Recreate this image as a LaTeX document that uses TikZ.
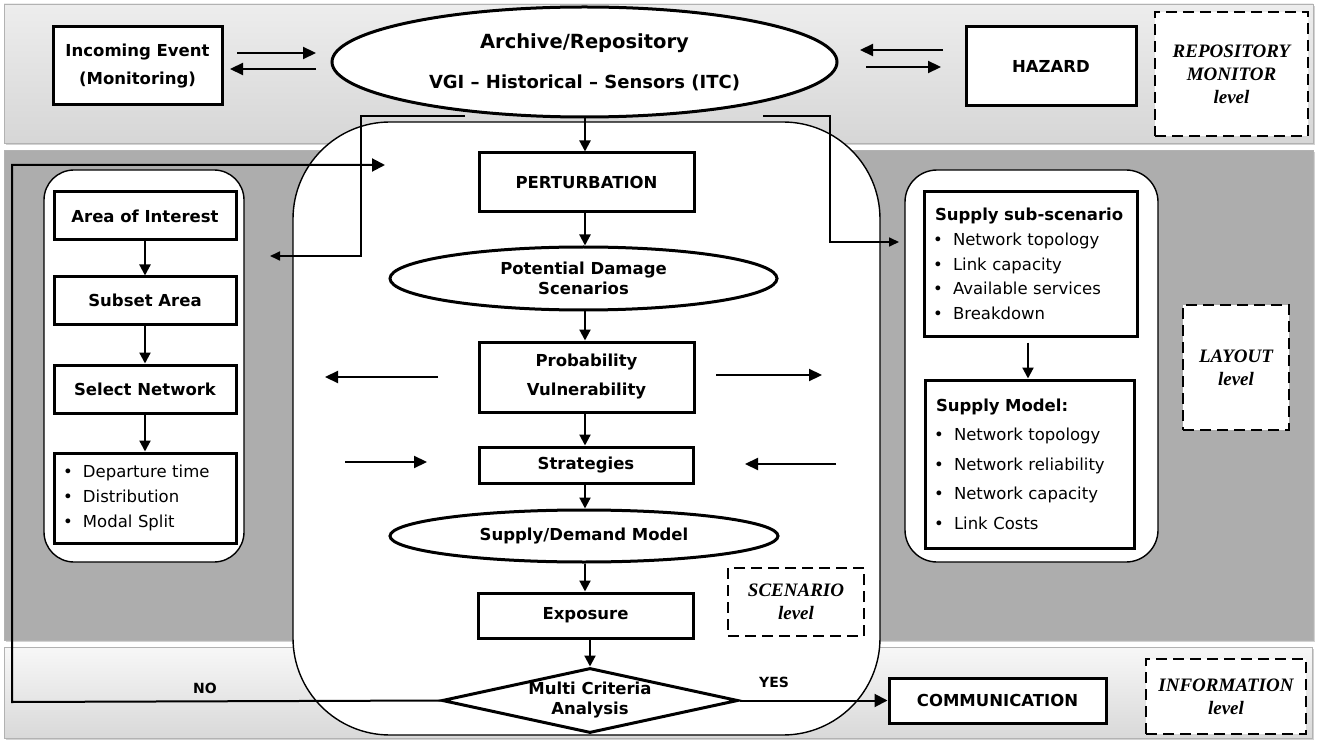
\documentclass[tikz,border=0pt]{standalone}
\usepackage{fontspec}
\setmainfont{DejaVu Sans}
\newfontfamily\lvlfont{Liberation Serif}
\usetikzlibrary{shapes.geometric,arrows.meta,shadows,calc}
\newcommand\itm[1]{\makebox[20pt][l]{\textbullet}#1}
\begin{document}
\begin{tikzpicture}[x=1pt,y=-1pt,
  box/.style={draw,line width=3pt,fill=white,inner sep=0pt,align=center,font=\fontsize{16.5}{28}\selectfont\bfseries},
  ell/.style={ellipse,draw,line width=3pt,fill=white,inner sep=0pt,align=center,font=\fontsize{16.5}{20}\selectfont\bfseries},
  lvl/.style={draw,dash pattern=on 11pt off 6pt,line width=2.5pt,fill=white,inner sep=0pt,align=center,font=\fontsize{19}{23}\selectfont\lvlfont\bfseries\itshape},
  blist/.style={draw,line width=3pt,fill=white,inner sep=0pt,align=left,font=\fontsize{16.5}{24.7}\selectfont},
  panel/.style={draw,line width=1.4pt,fill=white},
  flow/.style={line width=2.2pt,-{Triangle[length=11pt,width=11pt]}},
  side/.style={line width=2.2pt,-{Triangle[length=13pt,width=12pt]}},
  fb/.style={line width=1.7pt,-{Triangle[length=10pt,width=9pt]}},
  loop/.style={line width=2pt,-{Triangle[length=13pt,width=13pt]}},
  lab/.style={font=\fontsize{14}{17}\selectfont\bfseries},
  band/.style={draw=gray!60,line width=0.8pt,drop shadow={shadow xshift=2pt,shadow yshift=-2pt,opacity=0.35}},
]
\useasboundingbox (0,0) rectangle (1317,743);
\fill[white] (0,0) rectangle (1317,743);

% bands
\path[band,top color=gray!14,middle color=gray!4,bottom color=gray!32] (4,4) rectangle (1313,143);
\path[band,fill=black!32] (4,150) rectangle (1313,640);
\path[band,top color=gray!6,bottom color=gray!30] (4,647) rectangle (1312,738);

% panels
\path[panel,rounded corners=30pt] (44,170) rectangle (244,562);
\path[panel,rounded corners=32pt] (905,170) rectangle (1158,562);
\path[panel,rounded corners=97pt] (293,122) rectangle (880,735);

% top level
\node[box,minimum width=169pt,minimum height=78pt] (inc) at (137.5,66) {Incoming Event\\(Monitoring)};
\node[ell,minimum width=505pt,minimum height=110pt,font=\fontsize{18}{40}\selectfont\bfseries] (arch) at (584.5,62) {{\fontsize{19.5}{40}\selectfont Archive/Repository}\\VGI -- Historical -- Sensors (ITC)};
\node[box,minimum width=170pt,minimum height=79pt] (haz) at (1051,66.5) {HAZARD};
\node[lvl,minimum width=153pt,minimum height=124pt] (repo) at (1231.5,74) {REPOSITORY\\MONITOR\\level};

\coordinate (ia1) at (237,53); \coordinate (ia2) at (316,53);
\coordinate (ai1) at (316,69); \coordinate (ai2) at (230,69);
\coordinate (ha1) at (943,50); \coordinate (ha2) at (860,50);
\coordinate (ah1) at (866,67); \coordinate (ah2) at (941,67);
\draw[side] (ia1) -- (ia2);
\draw[side] (ai1) -- (ai2);
\draw[side] (ha1) -- (ha2);
\draw[side] (ah1) -- (ah2);

% left panel
\node[box,minimum width=182pt,minimum height=48pt] (aoi) at (145,216) {Area of Interest};
\node[box,minimum width=182pt,minimum height=47pt] (sub) at (145,300.5) {Subset Area};
\node[box,minimum width=182pt,minimum height=48pt] (sel) at (145,389) {Select Network};
\node[blist,minimum width=182pt,minimum height=90pt,text width=164pt] (lb) at (145,498) {\itm{Departure time}\\\itm{Distribution}\\\itm{Modal Split}};
\draw[flow] (aoi.south) -- (aoi.south |- sub.north);
\draw[flow] (sub.south) -- (sub.south |- sel.north);
\draw[flow] (sel.south -| lb.north) -- (lb.north);

% right panel
\node[blist,minimum width=213pt,minimum height=144pt,text width=195pt] (sss) at (1030.5,264) {\hspace*{2pt}\textbf{Supply sub-scenario}\\\itm{Network topology}\\\itm{Link capacity}\\\itm{Available services}\\\itm{Breakdown}};
\node[blist,minimum width=209pt,minimum height=168pt,text width=191pt,font=\fontsize{16.5}{29.5}\selectfont] (sm) at (1029.5,464) {\hspace*{2pt}\textbf{Supply Model:}\\\itm{Network topology}\\\itm{Network reliability}\\\itm{Network capacity}\\\itm{Link Costs}};
\draw[flow] (sss.south -| 1028,0) ++(0,5) -- (sm.north -| 1028,0);
\node[lvl,minimum width=106pt,minimum height=125pt] (layout) at (1236,367.5) {LAYOUT\\level};

% central column
\node[box,minimum width=215pt,minimum height=59pt] (pert) at (586.5,182.5) {PERTURBATION};
\node[ell,minimum width=387pt,minimum height=63pt] (pds) at (583.5,278.5) {Potential Damage\\Scenarios};
\node[box,minimum width=215pt,minimum height=70pt,font=\fontsize{16.5}{29}\selectfont\bfseries] (prob) at (586.5,377) {Probability\\Vulnerability};
\node[box,minimum width=214pt,minimum height=36pt] (strat) at (586,465) {Strategies};
\node[ell,minimum width=388pt,minimum height=52pt] (sdm) at (584,536) {Supply/Demand Model};
\node[box,minimum width=215pt,minimum height=45pt] (expo) at (585.5,615.5) {Exposure};
\node[diamond,draw,line width=3pt,fill=white,inner sep=0pt,aspect=4.5,minimum width=296pt,minimum height=65pt,align=center,font=\fontsize{16.5}{20}\selectfont\bfseries] (mca) at (590,700.5) {Multi Criteria\\Analysis};
\node[lvl,minimum width=136pt,minimum height=68pt] (scen) at (796,602) {SCENARIO\\level};

\draw[flow] (arch.south -| 585,0) -- (pert.north -| 585,0);
\draw[flow] (pert.south -| 585,0) -- (pds.north -| 585,0);
\draw[flow] (pds.south -| 585,0) -- (prob.north -| 585,0);
\draw[flow] (prob.south -| 585,0) -- (strat.north -| 585,0);
\draw[flow] (strat.south -| 585,0) -- (sdm.north -| 585,0);
\draw[flow] (sdm.south -| 585,0) -- (expo.north -| 585,0);
\draw[flow] (expo.south -| mca.north) -- (mca.north);

\coordinate (pl1) at (438,377); \coordinate (pl2) at (325,377);
\coordinate (pr1) at (716,375); \coordinate (pr2) at (822,375);
\coordinate (sl1) at (345,462); \coordinate (sl2) at (427,462);
\coordinate (sr1) at (836,464); \coordinate (sr2) at (745,464);
\draw[side] (pl1) -- (pl2);
\draw[side] (pr1) -- (pr2);
\draw[side] (sl1) -- (sl2);
\draw[side] (sr1) -- (sr2);

% feedback lines from archive
\coordinate (lf1) at (465,116); \coordinate (lf2) at (361,116);
\coordinate (lf3) at (361,256); \coordinate (lf4) at (270,256);
\draw[fb] (lf1) -- (lf2) -- (lf3) -- (lf4);
\coordinate (rf1) at (763,116); \coordinate (rf2) at (830,116);
\coordinate (rf3) at (830,242); \coordinate (rf4) at (899,242);
\draw[fb] (rf1) -- (rf2) -- (rf3) -- (rf4);

% bottom
\node[box,minimum width=217pt,minimum height=45pt] (comm) at (997.5,700.5) {COMMUNICATION};
\node[lvl,minimum width=160pt,minimum height=75pt] (info) at (1226,696.5) {INFORMATION\\level};

\coordinate (no1) at (12,702); \coordinate (no2) at (12,165); \coordinate (no3) at (385,165);
\draw[loop] (mca.west) -- (no1) -- (no2) -- (no3);
\draw[loop] (mca.east) -- (comm.west);
\node[lab] (nolab) at (205,688) {NO};
\node[lab] (yeslab) at (774,682) {YES};
\end{tikzpicture}
\end{document}
